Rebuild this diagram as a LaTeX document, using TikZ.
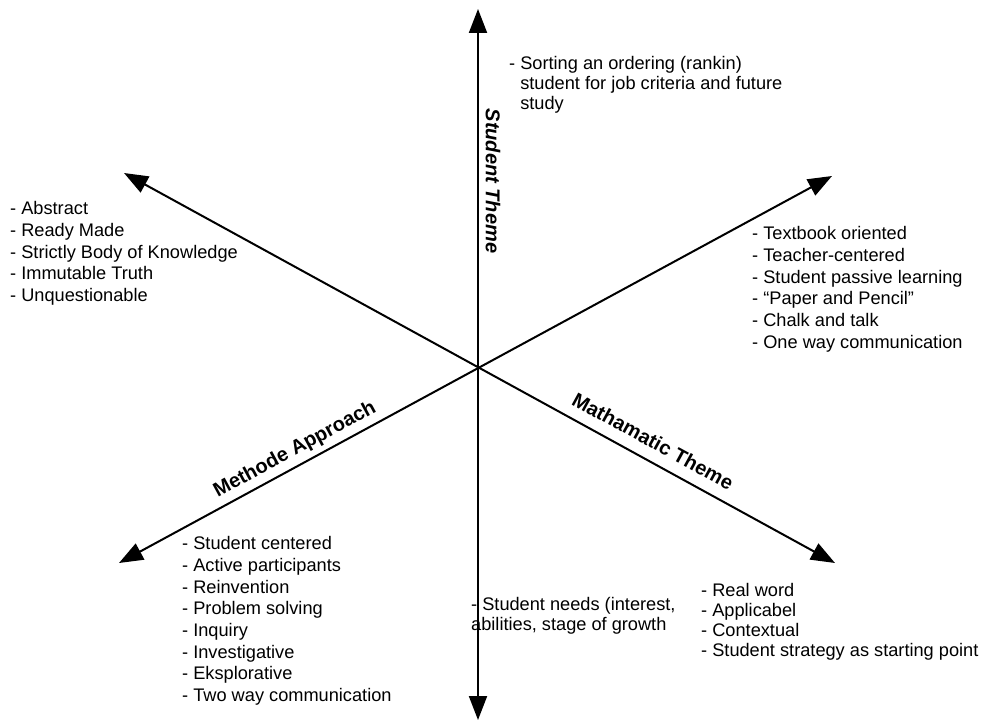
\documentclass[tikz,border=0pt]{standalone}
\usepackage{fontspec}
\setmainfont{Liberation Sans}
\usetikzlibrary{arrows.meta}
\newcommand{\itemfont}{\fontsize{18.2}{21.7}\selectfont}
\newcommand{\tightfont}{\fontsize{18.2}{20}\selectfont}
\newcommand{\themefont}{\fontsize{20}{24}\selectfont\bfseries}

\begin{document}
\begin{tikzpicture}[x=1pt,y=-1pt,
    axis/.style={line width=2pt,{Triangle[length=24pt,width=18pt]}-{Triangle[length=24pt,width=18pt]}},
    items/.style={font=\itemfont,align=left,inner sep=0pt,anchor=north west},
    tightitems/.style={items,font=\tightfont},
    theme/.style={font=\themefont,inner sep=0pt}]
                        \useasboundingbox (0,0) rectangle (990,722);
                        % axis ends
                        \coordinate (top) at (478,9);
                        \coordinate (bottom) at (478,720);
                        \coordinate (nw) at (124,173);
                        \coordinate (se) at (835,563);
                        \coordinate (sw) at (119,563);
                        \coordinate (ne) at (832,176);
                        % axes
                        \draw [axis] (bottom) -- (top);
                        \draw [axis] (nw) -- (se);
                        \draw [axis] (sw) -- (ne);
                        % themes
                        \node[theme,font=\themefont\itshape,rotate=-90] (studtheme) at (493,181) {Student Theme};
                        \node[theme,rotate=-28.7] (maththeme) at (653,441) {Mathamatic Theme};
                        \node[theme,rotate=28.5] (meththeme) at (295,450) {Methode Approach};
                        % lists
                        \node[tightitems] (sorting) at (509,55) {\strut- Sorting an ordering (rankin)\\\strut\hphantom{- }student for job criteria and future\\\strut\hphantom{- }study};
                        \node[items] (abstract) at (10,199.3) {\strut- Abstract\\\strut- Ready Made\\\strut- Strictly Body of Knowledge\\\strut- Immutable Truth\\\strut- Unquestionable};
                        \node[items] (textbook) at (752,224.3) {\strut- Textbook oriented\\\strut- Teacher-centered\\\strut- Student passive learning\\\strut- “Paper and Pencil”\\\strut- Chalk and talk\\\strut- One way communication};
                        \node[tightitems] (needs) at (471,596.5) {\strut- Student needs (interest,\\\strut abilities, stage of growth};
                        \node[items] (centered) at (182,534.3) {\strut- Student centered\\\strut- Active participants\\\strut- Reinvention\\\strut- Problem solving\\\strut- Inquiry\\\strut- Investigative\\\strut- Eksplorative\\\strut- Two way communication};
                        \node[tightitems] (realword) at (701,582.5) {\strut- Real word\\\strut- Applicabel\\\strut- Contextual\\\strut- Student strategy as starting point};
                    \end{tikzpicture}
\end{document}
